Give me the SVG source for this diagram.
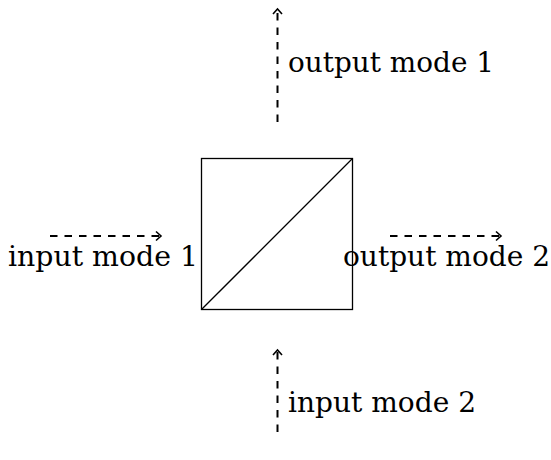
<svg xmlns="http://www.w3.org/2000/svg" width="551" height="460" viewBox="0 0 551 460">
<defs>
<style>
.lbl{font-family:"DejaVu Serif","Liberation Serif",serif;font-size:27px;fill:#000}
.dash{stroke:#000;stroke-width:2;fill:none;stroke-dasharray:7.5 7}
.shape{stroke:#000;stroke-width:1.3;fill:none}
</style>
<marker id="ah" viewBox="0 0 12 12" refX="10" refY="6" markerWidth="12" markerHeight="12" markerUnits="userSpaceOnUse" orient="auto">
<path d="M5,1.5 L10,6 L5,10.5" fill="none" stroke="#000" stroke-width="1.6"/>
</marker>
</defs>
<rect width="551" height="460" fill="#fff"/>
<g id="splitter">
<rect class="shape" x="201.5" y="158.5" width="151" height="151"/>
<line class="shape" x1="201.5" y1="309.5" x2="352.5" y2="158.5"/>
</g>
<g id="connectors">
<line class="dash" x1="50" y1="236" x2="161" y2="236" marker-end="url(#ah)"/>
<line class="dash" x1="390" y1="236" x2="501" y2="236" marker-end="url(#ah)"/>
<line class="dash" x1="277.5" y1="122" x2="277.5" y2="9" marker-end="url(#ah)"/>
<line class="dash" x1="277.5" y1="432" x2="277.5" y2="350" marker-end="url(#ah)"/>
</g>
<g id="in1"><text class="lbl" x="8" y="266" textLength="190" lengthAdjust="spacingAndGlyphs">input mode 1</text></g>
<g id="out2"><text class="lbl" x="343" y="266" textLength="207" lengthAdjust="spacingAndGlyphs">output mode 2</text></g>
<g id="out1"><text class="lbl" x="288" y="72" textLength="206" lengthAdjust="spacingAndGlyphs">output mode 1</text></g>
<g id="in2"><text class="lbl" x="288" y="412" textLength="188" lengthAdjust="spacingAndGlyphs">input mode 2</text></g>
</svg>
